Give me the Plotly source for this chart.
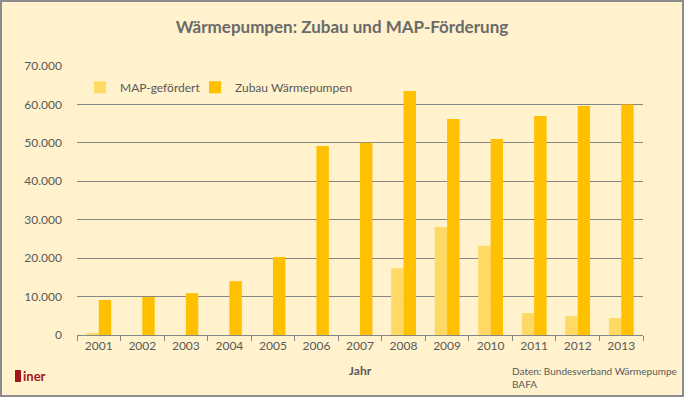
import plotly.graph_objects as go

years = ["2001", "2002", "2003", "2004", "2005", "2006", "2007",
         "2008", "2009", "2010", "2011", "2012", "2013"]
map_gefoerdert = [400, 0, 0, 0, 0, 0, 0, 17400, 28100, 23200, 5700, 4900, 4400]
zubau = [9100, 9900, 10900, 14000, 20300, 49200, 50000, 63500, 56200, 51000, 57000, 59600, 60000]
y_ticks = [0, 10000, 20000, 30000, 40000, 50000, 60000, 70000]

bg = "#FFF2CC"
grey = "#868686"
font_family = "Lato, 'Noto Sans', sans-serif"

fig = go.Figure()
fig.add_trace(go.Bar(x=years, y=map_gefoerdert, name="MAP-gefördert", legend="legend",
                     marker=dict(color="#FFD966", line=dict(width=0))))
fig.add_trace(go.Bar(x=years, y=zubau, name="Zubau Wärmepumpen", legend="legend2",
                     marker=dict(color="#FFC000", line=dict(width=0))))

legend_common = dict(orientation="h", y=0.975, xanchor="left", yanchor="top",
                     bgcolor="rgba(0,0,0,0)", font=dict(size=12, color="#595959"))

fig.update_layout(
    width=684, height=397,
    paper_bgcolor=bg, plot_bgcolor=bg,
    margin=dict(l=77, r=41, t=66, b=62),
    barmode="group", bargap=0.43, bargroupgap=0,
    separators=",.",
    font=dict(family=font_family, color="#595959", size=12),
    title=dict(text="<b>Wärmepumpen: Zubau und MAP-Förderung</b>",
               x=0.5, xanchor="center", y=0.932, yanchor="middle",
               font=dict(size=17, color="#6A6A6A", family=font_family)),
    legend=dict(x=(80 - 77) / 566, **legend_common),
    legend2=dict(x=(195 - 77) / 566, **legend_common),
    showlegend=True,
)
fig.update_xaxes(type="category", tickson="boundaries", ticks="outside", ticklen=5,
                 tickcolor=grey, showline=True, linecolor=grey, linewidth=1,
                 showgrid=False, tickfont=dict(size=12, color="#595959"),
                 title=dict(text="<b>Jahr</b>", font=dict(size=12, color="#595959"), standoff=14))
fig.update_yaxes(range=[0, 70000], tickvals=y_ticks, tickformat=",d",
                 showgrid=True, gridcolor=grey, gridwidth=1, zeroline=False,
                 showline=False, ticks="", ticklabelstandoff=14,
                 tickfont=dict(size=12, color="#595959"))

# outer border
fig.add_shape(type="rect", xref="paper", yref="paper", x0=-76/566, x1=1+40/566,
              y0=-61/269, y1=1+65/269, line=dict(color="#8C8C8C", width=2),
              fillcolor="rgba(0,0,0,0)", layer="above")
# logo
fig.add_shape(type="rect", xref="paper", yref="paper",
              x0=(15-77)/566, x1=(21-77)/566, y0=(335-382)/269, y1=(335-370)/269,
              fillcolor="#A5161B", line=dict(width=0))
fig.add_annotation(text="<b>iner</b>", xref="paper", yref="paper",
                   x=(21-77)/566, y=(335-376)/269, xanchor="left", yanchor="middle",
                   showarrow=False, font=dict(size=13, color="#A5161B", family=font_family))
fig.add_annotation(text="Daten: Bundesverband Wärmepumpe<br>BAFA", xref="paper", yref="paper",
                   x=(679-77)/566, y=(335-363)/269, xanchor="right", yanchor="top", align="left",
                   showarrow=False, font=dict(size=10, color="#595959", family=font_family))

fig.write_html("out.html", config={"displayModeBar": False},
               post_script="document.body.style.margin='0';")
